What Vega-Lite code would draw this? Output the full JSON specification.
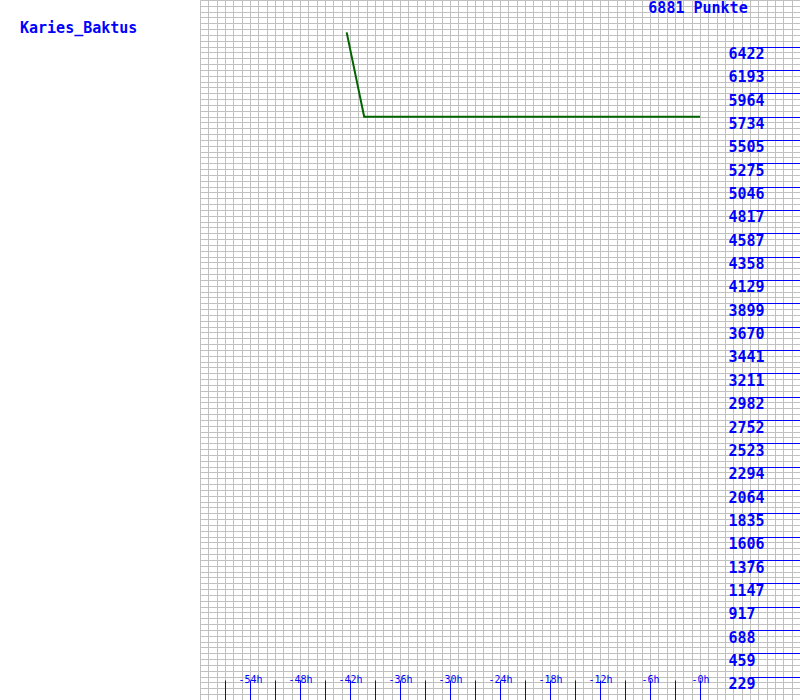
{
  "$schema": "https://vega.github.io/schema/vega-lite/v6.json",
  "width": 600,
  "height": 700,
  "autosize": {"type": "none"},
  "padding": {"left": 200, "right": 0, "top": 0, "bottom": 0},
  "background": "white",
  "config": {"view": {"stroke": null}},
  "layer": [
    {
      "data": {"values": [
        {"h": -42.4, "v": 6563},
        {"h": -40.3, "v": 5734},
        {"h": -36, "v": 5734},
        {"h": -24, "v": 5734},
        {"h": -12, "v": 5734},
        {"h": 0, "v": 5734}
      ]},
      "mark": {"type": "line", "color": "#006400", "strokeWidth": 2},
      "encoding": {
        "x": {"field": "h", "type": "quantitative",
          "scale": {"domain": [-60, 12], "nice": false, "zero": false},
          "axis": {"orient": "top", "title": null, "grid": true, "gridColor": "#c0c0c0", "gridWidth": 1, "gridOpacity": 1,
            "ticks": false, "labels": false, "domain": false, "zindex": 0,
            "values": [-60,-59,-58,-57,-56,-55,-54,-53,-52,-51,-50,-49,-48,-47,-46,-45,-44,-43,-42,-41,-40,-39,-38,-37,-36,-35,-34,-33,-32,-31,-30,-29,-28,-27,-26,-25,-24,-23,-22,-21,-20,-19,-18,-17,-16,-15,-14,-13,-12,-11,-10,-9,-8,-7,-6,-5,-4,-3,-2,-1,0,1,2,3,4,5,6,7,8,9,10,11,12]}},
        "y": {"field": "v", "type": "quantitative",
          "scale": {"domain": [0, 6881], "nice": false, "zero": false},
          "axis": {"orient": "left", "title": null, "grid": true, "gridColor": "#c0c0c0", "gridWidth": 1, "gridOpacity": 1,
            "ticks": false, "labels": false, "domain": false, "zindex": 0,
            "values": [0,57.34,114.68,172.03,229.37,286.71,344.05,401.39,458.73,516.08,573.42,630.76,688.1,745.44,802.78,860.13,917.47,974.81,1032.15,1089.49,1146.83,1204.18,1261.52,1318.86,1376.2,1433.54,1490.88,1548.23,1605.57,1662.91,1720.25,1777.59,1834.93,1892.28,1949.62,2006.96,2064.3,2121.64,2178.98,2236.33,2293.67,2351.01,2408.35,2465.69,2523.03,2580.38,2637.72,2695.06,2752.4,2809.74,2867.08,2924.43,2981.77,3039.11,3096.45,3153.79,3211.13,3268.48,3325.82,3383.16,3440.5,3497.84,3555.18,3612.53,3669.87,3727.21,3784.55,3841.89,3899.23,3956.58,4013.92,4071.26,4128.6,4185.94,4243.28,4300.63,4357.97,4415.31,4472.65,4529.99,4587.33,4644.68,4702.02,4759.36,4816.7,4874.04,4931.38,4988.73,5046.07,5103.41,5160.75,5218.09,5275.43,5332.78,5390.12,5447.46,5504.8,5562.14,5619.48,5676.83,5734.17,5791.51,5848.85,5906.19,5963.53,6020.88,6078.22,6135.56,6192.9,6250.24,6307.58,6364.93,6422.27,6479.61,6536.95,6594.29,6651.63,6708.98,6766.32,6823.66,6881]}}
      }
    },
    {
      "data": {"values": [
        {"h": -81.6, "v": 6606, "label": "Karies_Baktus"},
        {"h": -6.2, "v": 6800, "label": "6881 Punkte"}
      ]},
      "mark": {"type": "text", "align": "left", "baseline": "middle", "color": "#0000ff", "font": "DejaVu Sans Mono", "fontSize": 15, "fontWeight": "bold"},
      "encoding": {
        "text": {"field": "label"},
        "x": {"field": "h", "type": "quantitative",
          "axis": {"orient": "bottom", "title": null, "offset": -20, "tickSize": 20, "tickColor": "#0000ff", "tickWidth": 1, "tickOpacity": 1, "zindex": 1,
            "domain": false, "grid": false, "labelColor": "#0000ff", "labelFont": "DejaVu Sans Mono", "labelFontSize": 10,
            "labelPadding": -18, "labelBaseline": "alphabetic", "labelFlush": false, "labelOverlap": false, "labelBound": false,
            "values": [-57,-54,-51,-48,-45,-42,-39,-36,-33,-30,-27,-24,-21,-18,-15,-12,-9,-6,-3,0],
            "labelExpr": "datum.value % 6 == 0 ? '-' + abs(datum.value) + 'h' : ''"}},
        "y": {"field": "v", "type": "quantitative",
          "axis": {"orient": "right", "title": null, "offset": -51, "tickSize": 51, "tickColor": "#0000ff", "tickWidth": 1, "tickOpacity": 1, "zindex": 1,
            "domain": false, "grid": false, "labelColor": "#0000ff", "labelFont": "DejaVu Sans Mono", "labelFontSize": 15, "labelFontWeight": "bold",
            "labelAlign": "left", "labelBaseline": "middle", "labelPadding": -72, "labelOffset": 7,
            "labelFlush": false, "labelOverlap": false, "labelBound": false, "format": "d",
            "values": [229,459,688,917,1147,1376,1606,1835,2064,2294,2523,2752,2982,3211,3441,3670,3899,4129,4358,4587,4817,5046,5275,5505,5734,5964,6193,6422]}}
      }
    }
  ],
  "resolve": {"axis": {"x": "independent", "y": "independent"}}
}
